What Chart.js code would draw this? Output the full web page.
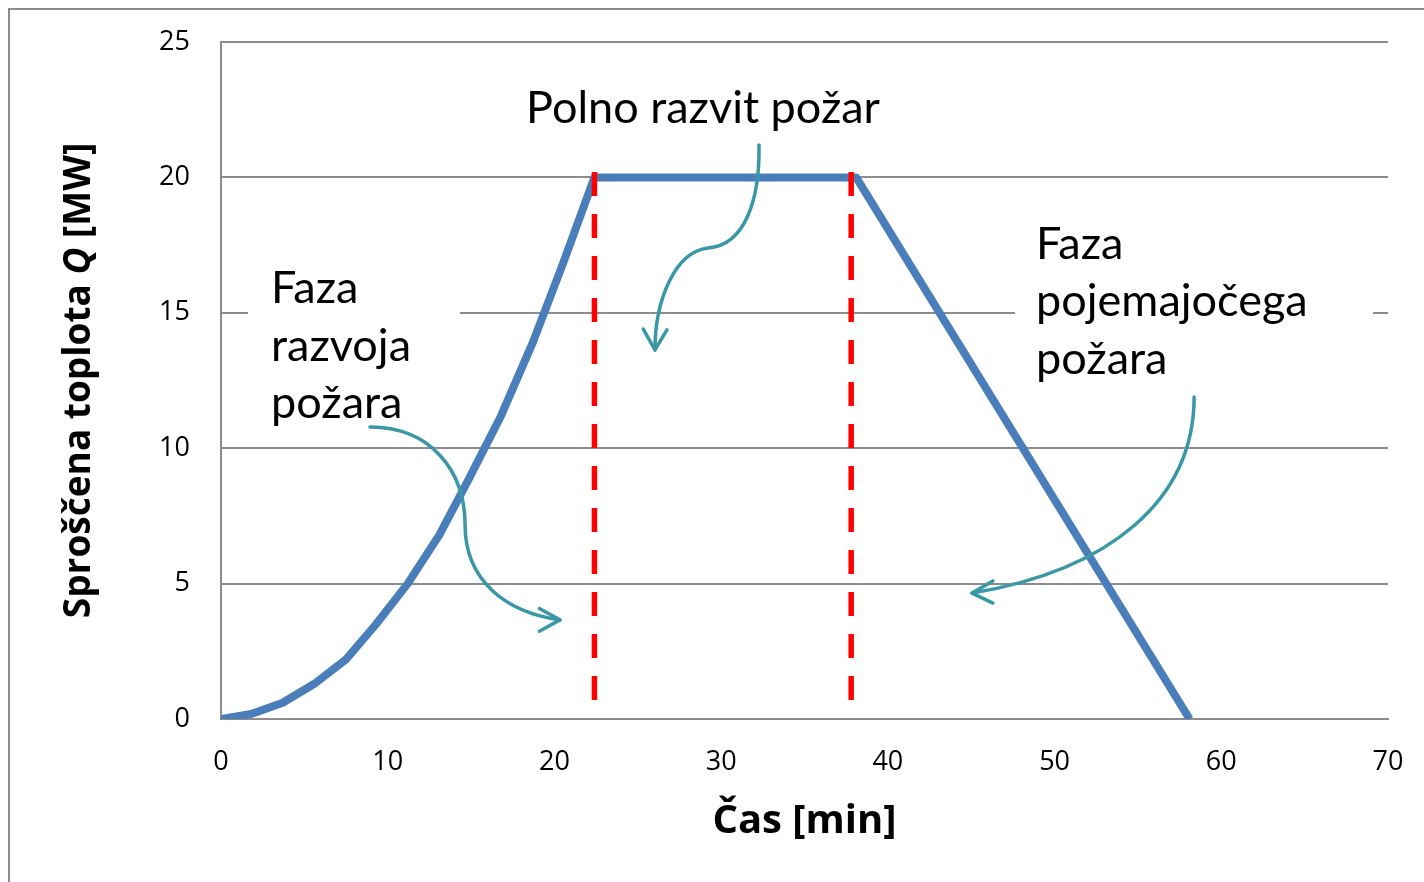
<!DOCTYPE html>
<html lang="sl">
<head>
<meta charset="UTF-8">
<title>Sproščena toplota</title>
<style>
  html, body { margin: 0; padding: 0; background: #fff; }
  #wrap { width: 1424px; height: 882px; }
</style>
</head>
<body>
<div id="wrap"><canvas id="chart" width="1424" height="882"></canvas></div>
<script src="https://cdn.jsdelivr.net/npm/chart.js"></script>
<script>
// krivulja sproščene toplote: čas [min], Q [MW]
const casMin = [0, 1.9, 3.7, 5.6, 7.5, 9.3, 11.2, 13.1, 14.9, 16.8, 18.7, 20.5, 22.4, 38.1, 58.1];
const toplotaMW = [0, 0.2, 0.6, 1.3, 2.2, 3.5, 5.0, 6.8, 8.9, 11.2, 13.9, 16.8, 20, 20, 0];

// meje med fazami (črtkani črti)
const mejeFaz = [22.4, 37.8];
const mejaOd = 20.2;
const mejaDo = 0.7;

const xTicks = [0, 10, 20, 30, 40, 50, 60, 70];
const yTicks = [0, 5, 10, 15, 20, 25];

const naslovX = 'Čas [min]';
const naslovY = ['Sproščena toplota ', 'Q', ' [MW]'];

const faze = [
  ['Polno razvit požar'],
  ['Faza', 'razvoja', 'požara'],
  ['Faza', 'pojemajočega', 'požara']
];

// postavitev napisov in puščic (v enotah osi)
const napisi = [
  { x: 18.3, y: 22.0, box: null },
  { x: 3.0, y: 15.36, box: [1.62, 16.6, 14.34, 11.3] },
  { x: 48.89, y: 16.99, box: [47.63, 18.2, 69.1, 12.2] }
];
const puscice = [
  { pot: [[8.94, 10.78], [12.54, 10.78], [14.64, 9.19], [14.64, 7.16], [14.64, 5.13], [17.04, 3.95], [20.33, 3.66]],
    krak: [[19.1, 4.08], [19.1, 3.24]] },
  { pot: [[32.27, 21.2], [32.33, 19.17], [31.43, 17.5], [29.21, 17.39], [27.23, 17.25], [26.03, 15.47], [26.03, 13.63]],
    krak: [[25.33, 14.4], [26.75, 14.37]] },
  { pot: [[58.37, 11.89], [58.37, 8.09], [53.33, 5.5], [45.05, 4.65]],
    krak: [[46.3, 5.1], [46.3, 4.28]] }
];

const tickFont = { family: "'Open Sans', sans-serif", size: 27 };
const napisFont = "45px Lato, 'Open Sans', sans-serif";
const vrstica = 57.5;
const modrozelena = '#3a97a7';

const okvirPlugin = {
  id: 'okvir',
  beforeDraw(chart) {
    const ctx = chart.ctx;
    ctx.save();
    ctx.strokeStyle = '#8c8c8c';
    ctx.lineWidth = 2;
    ctx.beginPath();
    ctx.moveTo(9, chart.height + 5);
    ctx.lineTo(9, 9);
    ctx.lineTo(chart.width + 5, 9);
    ctx.stroke();
    ctx.restore();
  },
  beforeDatasetsDraw(chart) {
    // beli okvirji za besedilom prekrijejo mrežo
    const { ctx, scales: { x, y } } = chart;
    ctx.save();
    ctx.fillStyle = '#fff';
    napisi.forEach(n => {
      if (!n.box) return;
      const x0 = x.getPixelForValue(n.box[0]), y0 = y.getPixelForValue(n.box[1]);
      const x1 = x.getPixelForValue(n.box[2]), y1 = y.getPixelForValue(n.box[3]);
      ctx.fillRect(x0, y0, x1 - x0, y1 - y0);
    });
    ctx.restore();
  },
  afterDatasetsDraw(chart) {
    const { ctx, scales: { x, y }, chartArea } = chart;
    const px = p => [x.getPixelForValue(p[0]), y.getPixelForValue(p[1])];
    ctx.save();

    // puščice
    ctx.strokeStyle = modrozelena;
    ctx.lineWidth = 3.5;
    ctx.lineCap = 'round';
    ctx.lineJoin = 'round';
    puscice.forEach(a => {
      const pts = a.pot.map(px);
      ctx.beginPath();
      ctx.moveTo(pts[0][0], pts[0][1]);
      for (let i = 1; i + 2 < pts.length; i += 3) {
        ctx.bezierCurveTo(pts[i][0], pts[i][1], pts[i + 1][0], pts[i + 1][1], pts[i + 2][0], pts[i + 2][1]);
      }
      ctx.stroke();
      const tip = pts[pts.length - 1];
      const k = a.krak.map(px);
      ctx.beginPath();
      ctx.moveTo(k[0][0], k[0][1]);
      ctx.lineTo(tip[0], tip[1]);
      ctx.lineTo(k[1][0], k[1][1]);
      ctx.stroke();
    });

    // besedila faz
    ctx.fillStyle = '#000';
    ctx.font = napisFont;
    ctx.textAlign = 'left';
    ctx.textBaseline = 'alphabetic';
    napisi.forEach((n, i) => {
      const [tx, ty] = px([n.x, n.y]);
      faze[i].forEach((line, j) => ctx.fillText(line, tx, ty + j * vrstica));
    });

    // naslov osi x
    ctx.font = "bold 40px 'Open Sans', sans-serif";
    ctx.textAlign = 'center';
    const cx = (chartArea.left + chartArea.right) / 2;
    ctx.fillText(naslovX, cx, 833);

    // naslov osi y (Q v ležečem tisku)
    const fonts = ["bold 37px 'Open Sans', sans-serif", "italic bold 37px 'Open Sans', sans-serif", "bold 37px 'Open Sans', sans-serif"];
    const widths = naslovY.map((t, i) => { ctx.font = fonts[i]; return ctx.measureText(t).width; });
    const total = widths.reduce((s, w) => s + w, 0);
    const cy = (chartArea.top + chartArea.bottom) / 2;
    ctx.translate(90, cy);
    ctx.rotate(-Math.PI / 2);
    ctx.textAlign = 'left';
    let pos = -total / 2;
    naslovY.forEach((t, i) => {
      ctx.font = fonts[i];
      ctx.fillText(t, pos, 0);
      pos += widths[i];
    });
    ctx.restore();
  }
};

new Chart(document.getElementById('chart'), {
  type: 'line',
  data: {
    datasets: [
      {
        label: 'meja 1',
        data: [{ x: mejeFaz[0], y: mejaOd }, { x: mejeFaz[0], y: mejaDo }],
        borderColor: '#ff0000',
        borderWidth: 5.5,
        borderDash: [24, 18],
        pointRadius: 0,
        order: 0
      },
      {
        label: 'meja 2',
        data: [{ x: mejeFaz[1], y: mejaOd }, { x: mejeFaz[1], y: mejaDo }],
        borderColor: '#ff0000',
        borderWidth: 5.5,
        borderDash: [24, 18],
        pointRadius: 0,
        order: 0
      },
      {
        label: 'Q',
        data: casMin.map((t, i) => ({ x: t, y: toplotaMW[i] })),
        borderColor: '#4a7ebb',
        borderWidth: 8,
        borderJoinStyle: 'round',
        pointRadius: 0,
        tension: 0,
        order: 1
      }
    ]
  },
  options: {
    responsive: false,
    animation: false,
    devicePixelRatio: 1,
    layout: { padding: { top: 42, right: 36, bottom: 0, left: 0 } },
    plugins: {
      legend: { display: false },
      tooltip: { enabled: false }
    },
    scales: {
      x: {
        type: 'linear',
        min: xTicks[0],
        max: xTicks[xTicks.length - 1],
        afterFit: s => { s.height = 163; s.paddingLeft = 0; s.paddingRight = 0; },
        afterBuildTicks: s => { s.ticks = xTicks.map(v => ({ value: v })); },
        grid: { display: false, drawTicks: false },
        border: { color: '#8c8c8c', width: 2 },
        ticks: { color: '#000', font: tickFont, padding: 27, maxRotation: 0 }
      },
      y: {
        type: 'linear',
        min: yTicks[0],
        max: yTicks[yTicks.length - 1],
        afterFit: s => { s.width = 221; s.paddingTop = 0; s.paddingBottom = 0; },
        afterBuildTicks: s => { s.ticks = yTicks.map(v => ({ value: v })); },
        grid: { color: '#8c8c8c', lineWidth: 2, drawTicks: false },
        border: { color: '#8c8c8c', width: 2 },
        ticks: { color: '#000', font: tickFont, padding: 31 }
      }
    }
  },
  plugins: [okvirPlugin]
});
</script>
</body>
</html>
